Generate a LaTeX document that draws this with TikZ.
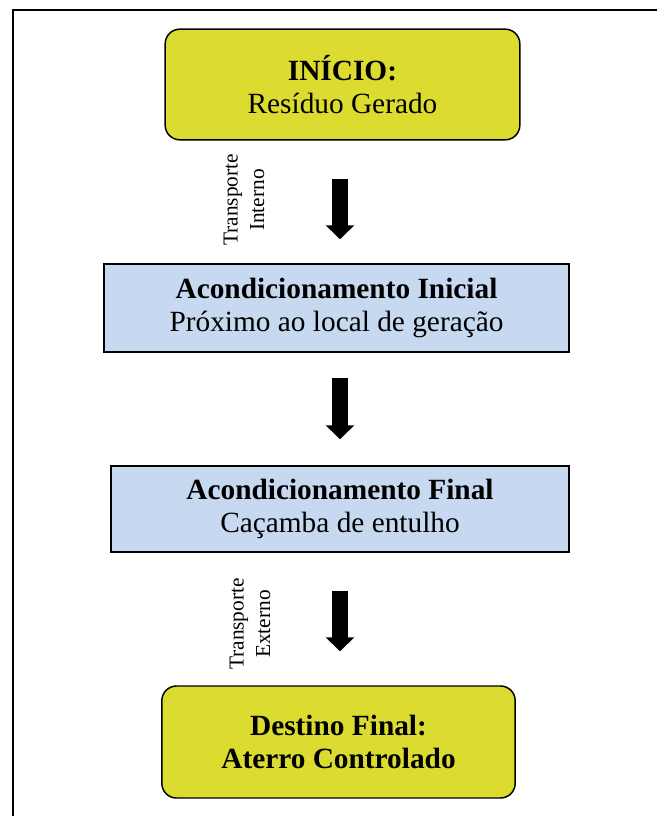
\documentclass[tikz,border=0pt]{standalone}
\usepackage{fontspec}
\setmainfont{Liberation Serif}
\usetikzlibrary{arrows.meta,calc}
\definecolor{boxyellow}{RGB}{220,220,48}
\definecolor{boxblue}{RGB}{198,217,241}
\tikzset{
    endbox/.style={draw=black,line width=1.1pt,rounded corners=11pt,fill=boxyellow,inner sep=0pt,align=center,font=\fontsize{22}{25}\selectfont},
    stagebox/.style={draw=black,line width=1.1pt,fill=boxblue,inner sep=0pt,align=center,font=\fontsize{22}{25}\selectfont},
    flowarrow/.style={line width=11.5pt,-{Triangle[width=21pt,length=10.5pt]}},
    sidelabel/.style={rotate=90,align=center,font=\fontsize{16}{20}\selectfont},
    frameline/.style={line width=1.5pt}
}

\begin{document}
\begin{tikzpicture}[x=0.75pt,y=-0.75pt]
    \useasboundingbox (0,0) rectangle (657,816);
    % Frame
    \draw[frameline] (13,816) -- (13,10) -- (657,10);
    % Start
    \node[endbox,minimum width=266pt,minimum height=83pt] (inicio) at (342.5,84.5)
        {\bfseries INÍCIO:\\Resíduo Gerado};
    % Initial packing
    \node[stagebox,minimum width=349pt,minimum height=66pt] (acinicial) at (336.5,308)
        {\bfseries Acondicionamento Inicial\\Próximo ao local de geração};
    % Final packing
    \node[stagebox,minimum width=343.5pt,minimum height=64.5pt] (acfinal) at (340,509)
        {\bfseries Acondicionamento Final\\Caçamba de entulho};
    % End
    \node[endbox,minimum width=265pt,minimum height=84pt,font=\fontsize{22}{25}\selectfont\bfseries] (destino) at (338.5,742)
        {Destino Final:\\Aterro Controlado};
    % Arrows
    \coordinate (axis) at (340,0);
    \draw[flowarrow,shorten <=28.5pt,shorten >=18pt] (inicio.south -| axis) -- (acinicial.north -| axis);
    \draw[flowarrow,shorten <=18.75pt,shorten >=19.5pt] (acinicial.south -| axis) -- (acfinal.north -| axis);
    \draw[flowarrow,shorten <=28.5pt,shorten >=25.5pt] (acfinal.south -| axis) -- (destino.north -| axis);
    % Transport labels
    \node[sidelabel] (interno) at (244,200) {Transporte\\Interno};
    \node[sidelabel] (externo) at (250,624) {Transporte\\Externo};
\end{tikzpicture}
\end{document}
